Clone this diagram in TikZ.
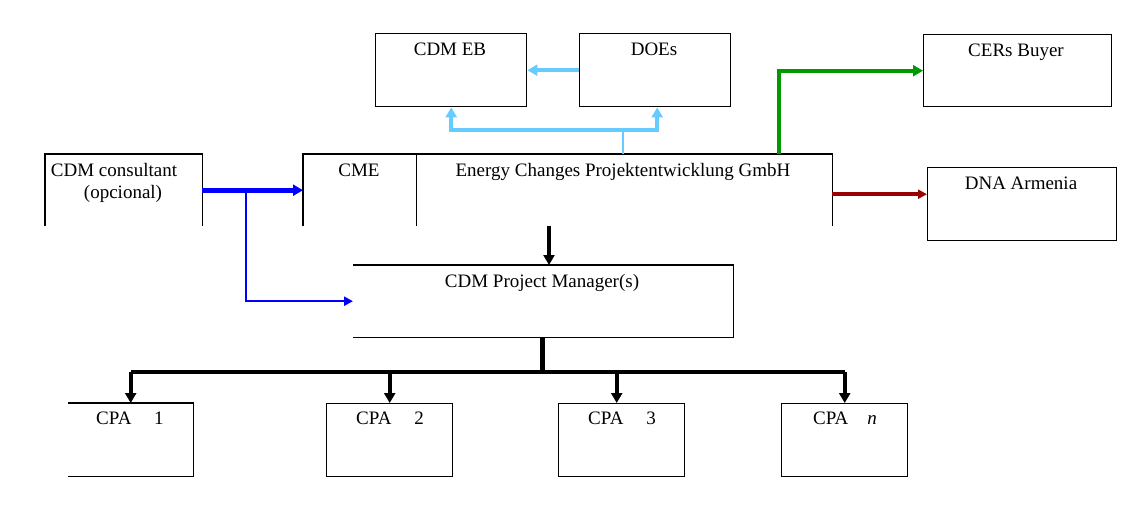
\documentclass[tikz,border=0pt]{standalone}
\usepackage{fontspec}
\setmainfont{Liberation Serif}
\usetikzlibrary{arrows.meta}
\definecolor{lblue}{HTML}{66CCFF}
\definecolor{dblue}{HTML}{0000FF}
\definecolor{dgreen}{HTML}{009900}
\definecolor{dred}{HTML}{990000}
\begin{document}
\begin{tikzpicture}[x=1pt,y=-1pt,
  box/.style={rectangle,inner sep=0pt,anchor=north west},
  boxline/.style={line width=1.4pt,line join=miter},
  lbl/.style={anchor=base,inner sep=0pt,font=\fontsize{19}{22}\selectfont},
  tip/.style={-{Triangle[length=10pt,width=11pt]}},
  smalltip/.style={-{Triangle[length=9pt,width=9pt]}}]
\useasboundingbox (0,0) rectangle (1138,506);
% boxes
\node[box,draw,boxline,minimum width=151pt,minimum height=73pt] (cdmeb) at (375,33) {};
\node[box,draw,boxline,minimum width=151pt,minimum height=73pt] (does) at (579,33) {};
\node[box,draw,boxline,minimum width=188pt,minimum height=72pt] (cers) at (923,34) {};
\node[box,draw,boxline,minimum width=189pt,minimum height=73pt] (dna) at (927,167) {};
\node[box,minimum width=157pt,minimum height=72pt] (cons) at (45,154) {};
\node[box,minimum width=113pt,minimum height=72pt] (cme) at (303,154) {};
\node[box,minimum width=416pt,minimum height=72pt] (ech) at (416,154) {};
\node[box,minimum width=380pt,minimum height=72pt] (pm) at (353,265) {};
\node[box,minimum width=125pt,minimum height=73pt] (cpa1) at (68,403) {};
\node[box,draw,boxline,minimum width=126pt,minimum height=73pt] (cpa2) at (326,403) {};
\node[box,draw,boxline,minimum width=126pt,minimum height=73pt] (cpa3) at (558,403) {};
\node[box,draw,boxline,minimum width=126pt,minimum height=73pt] (cpan) at (781,403) {};
% open-sided boxes
\draw[boxline] (cons.south west) -- (cons.north west) -- (cons.north east) -- (cons.south east);
\draw[boxline] (cme.south west) -- (cme.north west) -- (cme.north east) -- (cme.south east);
\draw[boxline] (ech.north west) -- (ech.north east) -- (ech.south east);
\draw[boxline] (pm.north west) -- (pm.north east) -- (pm.south east) -- (pm.south west);
\draw[boxline] (cpa1.north west) -- (cpa1.north east) -- (cpa1.south east) -- (cpa1.south west);
% labels
\node[lbl] (tcdmeb) at (450,55) {CDM EB};
\node[lbl] (tdoes) at (654,55) {DOEs};
\node[lbl] (tcers) at (1016,56) {CERs Buyer};
\node[lbl] (tdna) at (1021,189) {DNA Armenia};
\node[lbl] (tcons1) at (114,176) {CDM consultant};
\node[lbl] (tcons2) at (123,198) {(opcional)};
\node[lbl] (tcme) at (359,176) {CME};
\node[lbl] (tech) at (623,176) {Energy Changes Projektentwicklung GmbH};
\node[lbl] (tpm) at (542,287) {CDM Project Manager(s)};
\node[lbl] (tcpa1) at (130,424) {CPA\hspace{1.2em}1};
\node[lbl] (tcpa2) at (390,424) {CPA\hspace{1.2em}2};
\node[lbl] (tcpa3) at (622,424) {CPA\hspace{1.2em}3};
\node[lbl] (tcpan) at (845,424) {CPA\hspace{1em}\textit{n}};
% coordinates
\coordinate (lbj) at (623,130);
\coordinate (gst) at (779,154);
\coordinate (bj) at (246,190);
\coordinate (pmin) at (549,226);
\coordinate (busj) at (542,372);
% light blue
\draw[lblue,line width=4pt,tip] (does.west) -- (cdmeb.east);
\draw[lblue,line width=2pt] (ech.north -| lbj) -- (lbj);
\draw[lblue,line width=4pt,tip,line join=miter] (lbj) -| (cdmeb.south);
\draw[lblue,line width=4pt,tip,line join=miter] (lbj) -| ([xshift=2pt]does.south);
% green
\draw[dgreen,line width=4pt,tip,line join=miter] (gst) |- (cers.west);
% dark red
\draw[dred,line width=3.5pt,smalltip] ([yshift=-4pt]ech.east) -- ([yshift=-4pt]ech.east -| dna.west);
% blue
\draw[dblue,line width=5pt,tip] (cons.east) -- (cme.west);
\draw[dblue,line width=2.5pt,smalltip,line join=miter] (bj) |- (pm.west);
% black
\draw[line width=4pt,tip] (pmin) -- (pmin |- pm.north);
\draw[line width=5pt] (busj |- pm.south) -- (busj);
\draw[line width=4pt,line join=miter] (cpa1.north |- busj) -- (cpan.north |- busj);
\draw[line width=4pt,tip] (cpa1.north |- busj) -- (cpa1.north);
\draw[line width=4pt,tip] (cpa2.north |- busj) -- (cpa2.north);
\draw[line width=4pt,tip] ([xshift=-5pt]cpa3.north |- busj) -- ([xshift=-5pt]cpa3.north);
\draw[line width=4pt,tip] (cpan.north |- busj) -- (cpan.north);
\end{tikzpicture}
\end{document}
